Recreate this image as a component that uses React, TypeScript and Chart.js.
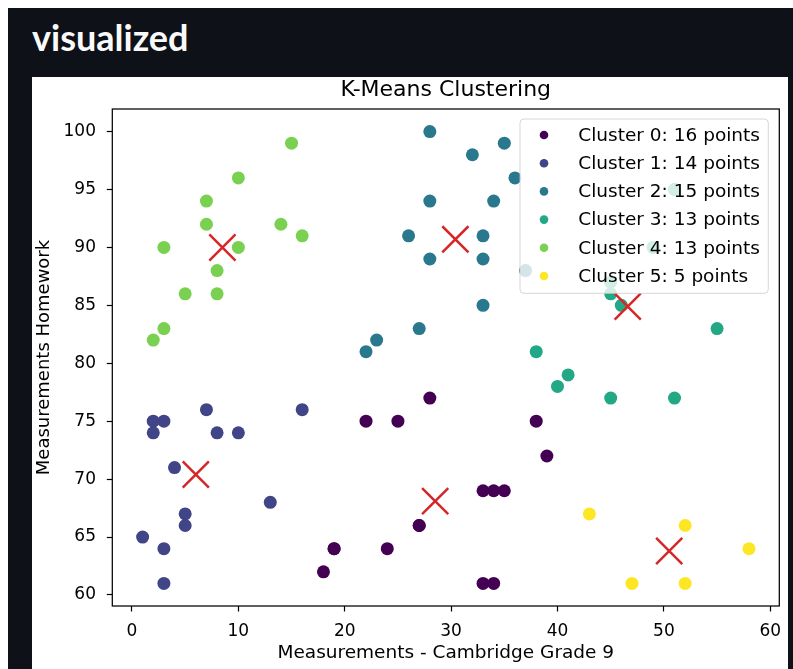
import React, { useEffect, useRef } from "react";
import { Chart, registerables } from "chart.js";

Chart.register(...registerables);

const pageHeading = "visualized";
const chartTitle = "K-Means Clustering";
const xAxisTitle = "Measurements - Cambridge Grade 9";
const yAxisTitle = "Measurements Homework";

const clusterLabels = ["Cluster 0", "Cluster 1", "Cluster 2", "Cluster 3", "Cluster 4", "Cluster 5"];
const clusterColors = ["#440154", "#414487", "#2a788e", "#22a884", "#7ad151", "#fde725"];

const cluster0X = [28, 22, 25, 38, 39, 33, 34, 35, 27, 19, 24, 18, 33, 34, 27, 19];
const cluster0Y = [77, 75, 75, 75, 72, 69, 69, 69, 66, 64, 64, 62, 61, 61, 66, 64];
const cluster1X = [7, 16, 2, 3, 2, 8, 10, 4, 13, 5, 5, 1, 3, 3];
const cluster1Y = [76, 76, 75, 75, 74, 74, 74, 71, 68, 67, 66, 65, 64, 61];
const cluster2X = [28, 32, 35, 36, 28, 34, 26, 33, 28, 33, 37, 33, 27, 23, 22];
const cluster2Y = [100, 98, 99, 96, 94, 94, 91, 91, 89, 89, 88, 85, 83, 82, 81];
const cluster3X = [55, 38, 41, 40, 45, 51, 51, 49, 45, 45, 46, 51, 49];
const cluster3Y = [83, 81, 79, 78, 77, 77, 95, 90, 87, 86, 85, 95, 90];
const cluster4X = [15, 10, 7, 7, 14, 16, 3, 10, 8, 5, 8, 3, 2];
const cluster4Y = [99, 96, 94, 92, 92, 91, 90, 90, 88, 86, 86, 83, 82];
const cluster5X = [43, 52, 58, 47, 52];
const cluster5Y = [67, 66, 64, 61, 61];

const centroidX = [28.5, 6.0, 30.4, 46.6, 8.5, 50.5];
const centroidY = [68.1, 70.4, 90.7, 84.9, 90.0, 63.8];

const xTicks = [0, 10, 20, 30, 40, 50, 60];
const yTicks = [60, 65, 70, 75, 80, 85, 90, 95, 100];
const xRange = [-1.85, 60.85];
const yRange = [59.05, 101.95];

const clusterXs = [cluster0X, cluster1X, cluster2X, cluster3X, cluster4X, cluster5X];
const clusterYs = [cluster0Y, cluster1Y, cluster2Y, cluster3Y, cluster4Y, cluster5Y];

const FONT = "DejaVu Sans";

const framePlugin = {
  id: "frame",
  afterDatasetsDraw(chart: any) {
    const { ctx, chartArea: a } = chart;
    ctx.save();
    ctx.strokeStyle = "#000";
    ctx.lineWidth = 1.25;
    ctx.strokeRect(a.left, a.top, a.right - a.left, a.bottom - a.top);
    ctx.restore();
  },
};

const legendPlugin = {
  id: "mplLegend",
  afterDraw(chart: any) {
    const { ctx, chartArea: a } = chart;
    const w = 248.3;
    const h = 174.3;
    const right = a.right - 11;
    const left = right - w;
    const top = a.top + 10;
    ctx.save();
    ctx.beginPath();
    ctx.roundRect(left, top, w, h, 4);
    ctx.fillStyle = "rgba(255,255,255,0.8)";
    ctx.fill();
    ctx.strokeStyle = "rgba(204,204,204,0.8)";
    ctx.lineWidth = 1;
    ctx.stroke();
    ctx.font = `18.5px "${FONT}"`;
    ctx.textBaseline = "middle";
    ctx.textAlign = "left";
    chart.data.datasets.forEach((ds: any, i: number) => {
      if (!ds.isCluster) return;
      const y = top + 16 + i * 28.2;
      ctx.beginPath();
      ctx.arc(left + 24, y, 4.3, 0, Math.PI * 2);
      ctx.fillStyle = ds.backgroundColor;
      ctx.fill();
      ctx.fillStyle = "#000";
      ctx.fillText(ds.label, left + 58.3, y + 1);
    });
    ctx.restore();
  },
};

export default function App() {
  const ref = useRef<HTMLCanvasElement>(null);

  useEffect(() => {
    const datasets: any[] = clusterLabels.map((name, i) => ({
      label: `${name}: ${clusterXs[i].length} points`,
      isCluster: true,
      data: clusterXs[i].map((x, j) => ({ x, y: clusterYs[i][j] })),
      backgroundColor: clusterColors[i],
      borderColor: clusterColors[i],
      pointRadius: 6.5,
      pointHoverRadius: 6.5,
      borderWidth: 0,
      order: 10 - i,
    }));
    datasets.push({
      label: "Centroids",
      isCluster: false,
      data: centroidX.map((x, j) => ({ x, y: centroidY[j] })),
      pointStyle: "crossRot",
      pointRadius: 18.5,
      pointHoverRadius: 18.5,
      borderColor: "#d62728",
      backgroundColor: "#d62728",
      borderWidth: 2.5,
      order: 0,
    });

    const chart = new Chart(ref.current as HTMLCanvasElement, {
      type: "scatter",
      data: { datasets },
      options: {
        animation: false,
        responsive: false,
        devicePixelRatio: 1,
        events: [],
        layout: { autoPadding: false, padding: { left: 0, right: 8.7, top: 0, bottom: 0 } },
        plugins: {
          legend: { display: false },
          tooltip: { enabled: false },
          title: {
            display: true,
            fullSize: false,
            text: chartTitle,
            color: "#000",
            font: { family: FONT, size: 22, weight: "normal" },
            padding: { top: 0, bottom: 5.6 },
          },
        },
        scales: {
          x: {
            type: "linear",
            min: xRange[0],
            max: xRange[1],
            afterBuildTicks: (s: any) => {
              s.ticks = xTicks.map((v) => ({ value: v }));
            },
            afterFit: (s: any) => {
              s.height = 63;
              s.paddingLeft = 0;
              s.paddingRight = 0;
            },
            grid: {
              display: true,
              drawOnChartArea: false,
              drawTicks: true,
              tickLength: 5.5,
              tickWidth: 1.2,
              tickColor: "#000",
              color: "#000",
            },
            border: { display: false },
            ticks: {
              color: "#000",
              font: { family: FONT, size: 17 },
              padding: 9.8,
              maxRotation: 0,
              autoSkip: false,
            },
            title: {
              display: true,
              text: xAxisTitle,
              color: "#000",
              font: { family: FONT, size: 18.5 },
              padding: { top: 0, bottom: 4.8 },
            },
          },
          y: {
            type: "linear",
            min: yRange[0],
            max: yRange[1],
            afterBuildTicks: (s: any) => {
              s.ticks = yTicks.map((v) => ({ value: v }));
            },
            afterFit: (s: any) => {
              s.width = 80.3;
              s.paddingTop = 0;
              s.paddingBottom = 0;
            },
            grid: {
              display: true,
              drawOnChartArea: false,
              drawTicks: true,
              tickLength: 5.5,
              tickWidth: 1.2,
              tickColor: "#000",
              color: "#000",
            },
            border: { display: false },
            ticks: {
              color: "#000",
              font: { family: FONT, size: 17 },
              padding: 10.8,
              autoSkip: false,
            },
            title: {
              display: true,
              text: yAxisTitle,
              color: "#000",
              font: { family: FONT, size: 18 },
              padding: { top: 1.2, bottom: 0 },
            },
          },
        },
      } as any,
      plugins: [framePlugin, legendPlugin],
    });
    return () => chart.destroy();
  }, []);

  return (
    <div
      style={{
        position: "fixed",
        left: 8,
        top: 8,
        right: 0,
        bottom: 0,
        background: "#0e1117",
        overflow: "hidden",
      }}
    >
      <div
        style={{
          position: "absolute",
          left: 24,
          top: 11,
          color: "#fafafa",
          fontFamily: "Lato",
          fontWeight: 700,
          fontSize: 36,
          lineHeight: "36px",
          whiteSpace: "nowrap",
        }}
      >
        {pageHeading}
      </div>
      <div
        style={{
          position: "absolute",
          left: 24,
          top: 69,
          width: 756,
          height: 640,
          background: "#fff",
        }}
      >
        <canvas ref={ref} width={756} height={592} style={{ display: "block" }} />
      </div>
    </div>
  );
}
